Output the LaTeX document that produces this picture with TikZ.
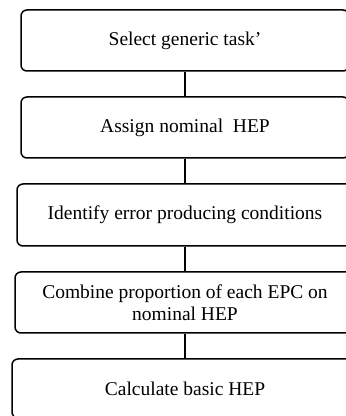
\documentclass[tikz,border=0pt]{standalone}
\usepackage{fontspec}
\setmainfont{Liberation Serif}
\begin{document}
\begin{tikzpicture}[x=1pt,y=1pt,
  stepbox/.style={draw=black, line width=1.5pt, rounded corners=6pt, rectangle,
    align=center, inner sep=0pt, font=\fontsize{19.5}{22}\selectfont},
  link/.style={draw=black, line width=1.3pt}]
\clip (0,0) rectangle (346,416);
\node[stepbox, minimum width=328pt, minimum height=61pt] (b1) at (185,375.5) {Select generic task'};
\node[stepbox, minimum width=328pt, minimum height=61pt] (b2) at (185,288.5) {Assign nominal\ \ HEP};
\node[stepbox, minimum width=336pt, minimum height=62pt] (b3) at (185,201) {Identify error producing conditions};
\node[stepbox, minimum width=340pt, minimum height=61pt] (b4) at (185,113.5) {Combine proportion of each EPC on\\nominal HEP};
\node[stepbox, minimum width=346pt, minimum height=59pt] (b5) at (185,27.5) {Calculate basic HEP};
\draw[link] (b1.south) -- (b2.north);
\draw[link] (b2.south) -- (b3.north);
\draw[link] (b3.south) -- (b4.north);
\draw[link] (b4.south) -- (b5.north);
\end{tikzpicture}
\end{document}
